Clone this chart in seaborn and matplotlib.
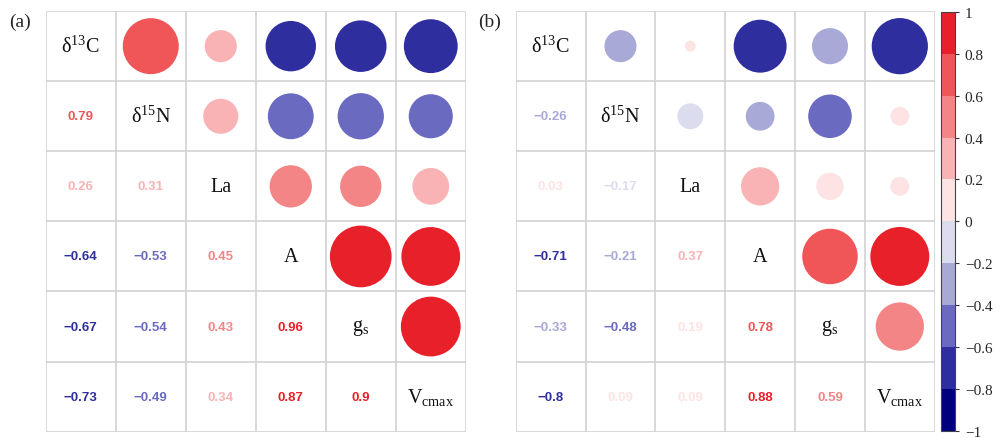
import numpy as np
import pandas as pd
import matplotlib
matplotlib.use("Agg")
import matplotlib.pyplot as plt
from matplotlib.colors import ListedColormap, BoundaryNorm
from matplotlib.cm import ScalarMappable
import seaborn as sns

# Variables (diagonal labels)
variables = ["δ$^{13}$C", "δ$^{15}$N", "La", "A", "g$_{\\mathrm{s}}$", "V$_{\\mathrm{cmax}}$"]

# Pairwise correlations, listed row by row for the lower triangle (i > j)
pairs_i = [1, 2, 2, 3, 3, 3, 4, 4, 4, 4, 5, 5, 5, 5, 5]
pairs_j = [0, 0, 1, 0, 1, 2, 0, 1, 2, 3, 0, 1, 2, 3, 4]
corr_a = [0.79, 0.26, 0.31, -0.64, -0.53, 0.45, -0.67, -0.54, 0.43, 0.96,
          -0.73, -0.49, 0.34, 0.87, 0.90]
corr_b = [-0.26, 0.03, -0.17, -0.71, -0.21, 0.37, -0.33, -0.48, 0.19, 0.78,
          -0.80, 0.09, 0.09, 0.88, 0.59]

# Discrete diverging palette, 10 bins from -1 to 1
bin_colors = ["#00007f", "#2e2e9e", "#6a6ac0", "#a9a9d8", "#dcdcef",
              "#fde3e3", "#f9b3b5", "#f48587", "#f05558", "#e8202a"]
bin_edges = np.linspace(-1, 1, 11)
cmap = ListedColormap(bin_colors)
norm = BoundaryNorm(bin_edges, cmap.N)

sns.set_theme(style="white")
plt.rcParams["mathtext.fontset"] = "custom"
plt.rcParams["mathtext.rm"] = "Liberation Serif"
plt.rcParams["mathtext.it"] = "Liberation Serif:italic"

fig = plt.figure(figsize=(10.01, 4.39), dpi=100)
ax_a = fig.add_axes([0.0457, 0.0144, 0.4196, 0.958])
ax_b = fig.add_axes([0.5152, 0.0144, 0.4186, 0.958])
cax = fig.add_axes([0.9404, 0.0160, 0.0137, 0.955])

n = len(variables)
grid_color = "#d2d2d2"


def draw_panel(ax, values, tag):
    df = pd.DataFrame({"i": pairs_i, "j": pairs_j, "r": values})
    # upper triangle: circle at (row j, column i); area proportional to |r|
    df["absr"] = df["r"].abs()
    cell_pt = ax.get_position().width * fig.get_figwidth() * 72 / n
    smax = (0.9 * cell_pt) ** 2
    sns.scatterplot(data=df, x="i", y="j", size="absr", size_norm=(0, 1),
                    sizes=(0, smax), hue="r", palette=cmap, hue_norm=norm,
                    linewidth=0, legend=False, ax=ax, zorder=3)
    # lower triangle: coefficient text in the bin colour
    for _, row in df.iterrows():
        r = row["r"]
        label = f"{r:.2f}".rstrip("0").rstrip(".") if abs(r) < 1 else f"{r:g}"
        label = label.replace("-", "\u2212")
        ax.text(row["j"], row["i"], label, ha="center", va="center",
                fontsize=9.5, fontweight="bold", family="Liberation Sans",
                color=cmap(norm(r)), zorder=3)
    # diagonal variable names
    for k, name in enumerate(variables):
        ax.text(k, k, name, ha="center", va="center", fontsize=14.5,
                family="Liberation Serif", color="#111111", zorder=3)
    ax.set_xlim(-0.5, n - 0.5)
    ax.set_ylim(n - 0.5, -0.5)
    for b in np.arange(-0.5, n, 1.0):
        ax.axhline(b, color=grid_color, lw=1.2, zorder=1)
        ax.axvline(b, color=grid_color, lw=1.2, zorder=1)
    ax.set_xticks([])
    ax.set_yticks([])
    ax.set_xlabel("")
    ax.set_ylabel("")
    for s in ax.spines.values():
        s.set_visible(False)
    pos = ax.get_position()
    fig.text(pos.x0 - 0.026, 0.948, tag, ha="center", va="center",
             fontsize=14, family="Liberation Serif")


draw_panel(ax_a, corr_a, "(a)")
draw_panel(ax_b, corr_b, "(b)")

sm = ScalarMappable(norm=norm, cmap=cmap)
cb = fig.colorbar(sm, cax=cax, ticks=np.round(np.linspace(-1, 1, 11), 1))
cb.ax.set_yticklabels([f"{t:g}".replace("-", "\u2212") for t in np.round(np.linspace(-1, 1, 11), 1)],
                      family="Liberation Serif", fontsize=11)
cb.ax.tick_params(length=3, width=0.8, color="#333333", pad=4)
cb.outline.set_edgecolor("#444444")
cb.outline.set_linewidth(0.8)

fig.savefig("out.png", dpi=100)
